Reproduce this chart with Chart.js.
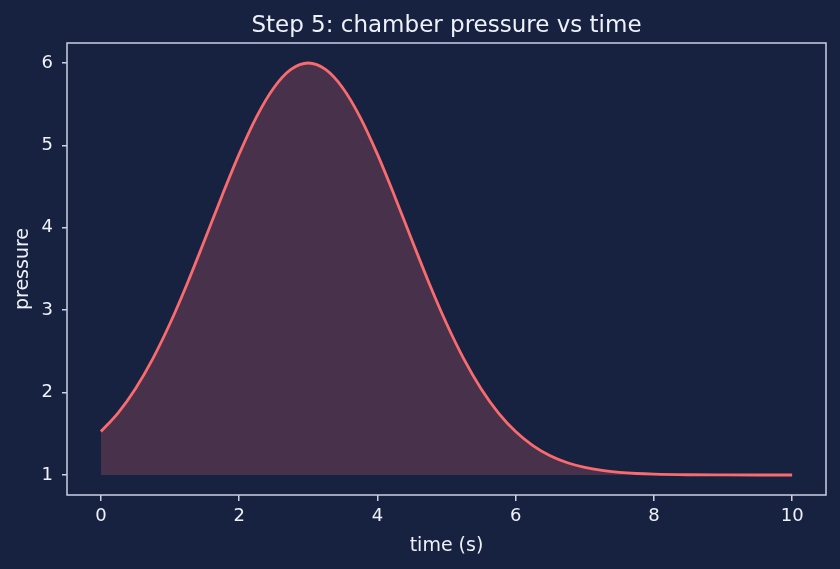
<!DOCTYPE html>
<html>
<head>
<meta charset="utf-8">
<script src="https://cdn.jsdelivr.net/npm/chart.js@4.4.1/dist/chart.umd.min.js"></script>
<style>
  html, body { margin: 0; padding: 0; background: #172241; }
  #wrap { width: 840px; height: 569px; }
</style>
</head>
<body>
<div id="wrap"><canvas id="pressureChart" width="840" height="569"></canvas></div>
<script>
// time (s) and chamber pressure
const times = [0, 0.25, 0.5, 0.75, 1, 1.25, 1.5, 1.75, 2, 2.25, 2.5, 2.75, 3,
  3.25, 3.5, 3.75, 4, 4.25, 4.5, 4.75, 5, 5.25, 5.5, 5.75, 6, 6.25, 6.5, 6.75,
  7, 7.25, 7.5, 7.75, 8, 8.5, 9, 9.5, 10];
const pressures = [1.527, 1.755, 2.048, 2.41, 2.839, 3.325, 3.849, 4.384, 4.894,
  5.344, 5.697, 5.922, 6.0, 5.922, 5.697, 5.344, 4.894, 4.384, 3.849, 3.325,
  2.839, 2.41, 2.048, 1.755, 1.527, 1.357, 1.234, 1.149, 1.092, 1.055, 1.032,
  1.018, 1.01, 1.003, 1.001, 1.0, 1.0];
const xTicks = [0, 2, 4, 6, 8, 10];
const yTicks = [1, 2, 3, 4, 5, 6];
const baseline = 1;
const chartTitle = 'Step 5: chamber pressure vs time';

const textColor = '#eef1f7';
const spineColor = '#c9d1e3';

// matplotlib-style box around the plot area, title centred over the axes
const frame = {
  id: 'frame',
  afterDraw(chart) {
    const a = chart.chartArea;
    const c = chart.ctx;
    c.save();
    c.strokeStyle = spineColor;
    c.lineWidth = 1.5;
    c.strokeRect(a.left, a.top, a.right - a.left, a.bottom - a.top);
    c.fillStyle = textColor;
    c.font = '23px "DejaVu Sans"';
    c.textAlign = 'center';
    c.textBaseline = 'alphabetic';
    c.fillText(chartTitle, (a.left + a.right) / 2, 32);
    c.restore();
  }
};

const ctx = document.getElementById('pressureChart').getContext('2d');
window.myChart = new Chart(ctx, {
  type: 'line',
  data: {
    datasets: [{
      label: 'pressure',
      data: times.map((t, i) => ({ x: t, y: pressures[i] })),
      borderColor: '#f96b6e',
      borderWidth: 2.8,
      backgroundColor: 'rgba(249, 107, 110, 0.22)',
      fill: { value: baseline },
      pointRadius: 0,
      tension: 0.4,
      cubicInterpolationMode: 'monotone'
    }]
  },
  options: {
    responsive: false,
    animation: false,
    layout: { padding: { left: 0, right: 14, top: 43, bottom: 0 } },
    plugins: {
      legend: { display: false },
      tooltip: { enabled: false },
      title: { display: false }
    },
    scales: {
      x: {
        type: 'linear',
        min: -0.49,
        max: 10.49,
        afterBuildTicks: scale => { scale.ticks = xTicks.map(v => ({ value: v })); },
        afterFit: scale => { scale.height = 74; },
        ticks: {
          color: textColor,
          font: { family: 'DejaVu Sans', size: 18 },
          padding: 5,
          maxRotation: 0
        },
        grid: {
          drawOnChartArea: false,
          drawTicks: true,
          tickLength: 6,
          color: spineColor,
          lineWidth: 1.5
        },
        border: { display: false },
        title: {
          display: true,
          text: 'time (s)',
          color: textColor,
          font: { family: 'DejaVu Sans', size: 19, lineHeight: 1.2 },
          padding: { top: 4, bottom: 12 }
        }
      },
      y: {
        type: 'linear',
        min: 0.757,
        max: 6.243,
        afterBuildTicks: scale => { scale.ticks = yTicks.map(v => ({ value: v })); },
        afterFit: scale => { scale.width = 67; },
        ticks: {
          color: textColor,
          font: { family: 'DejaVu Sans', size: 18 },
          padding: 9
        },
        grid: {
          drawOnChartArea: false,
          drawTicks: true,
          tickLength: 5,
          color: spineColor,
          lineWidth: 1.5
        },
        border: { display: false },
        title: {
          display: true,
          text: 'pressure',
          color: textColor,
          font: { family: 'DejaVu Sans', size: 19, lineHeight: 1.2 },
          padding: { top: 12, bottom: 4 }
        }
      }
    }
  },
  plugins: [frame]
});
</script>
</body>
</html>
